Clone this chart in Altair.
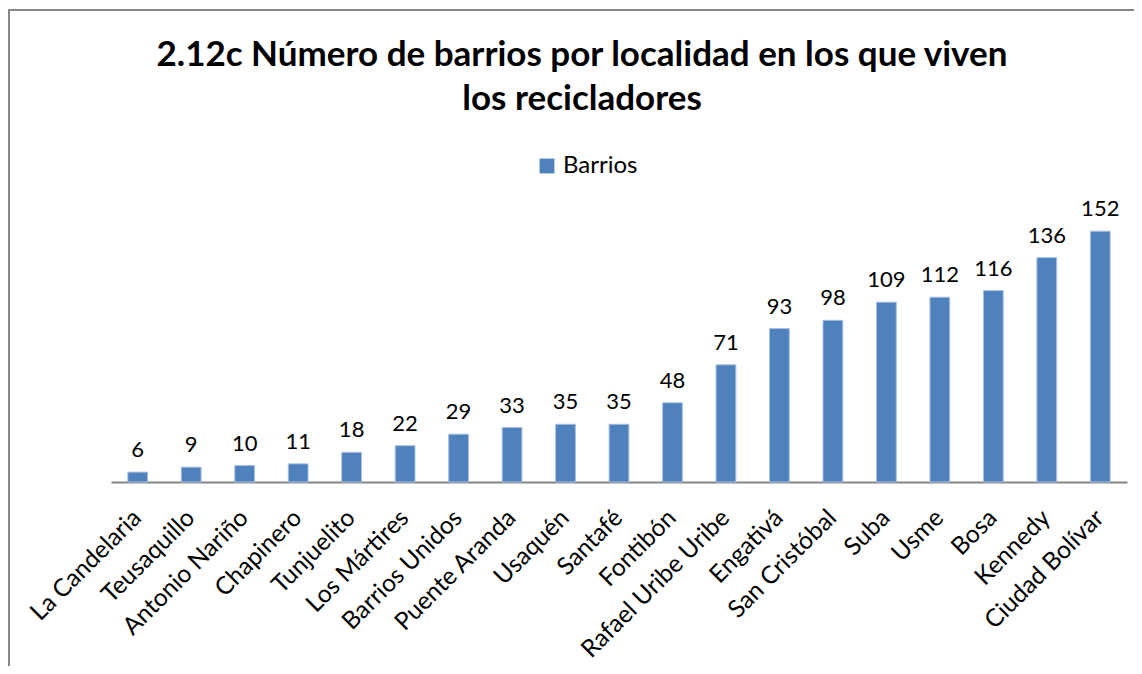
import altair as alt
import pandas as pd

localidades = ["La Candelaria", "Teusaquillo", "Antonio Nariño", "Chapinero", "Tunjuelito",
               "Los Mártires", "Barrios  Unidos", "Puente Aranda", "Usaquén", "Santafé",
               "Fontibón", "Rafael Uribe Uribe", "Engativá", "San Cristóbal", "Suba",
               "Usme", "Bosa", "Kennedy", "Ciudad Bolívar"]
barrios = [6, 9, 10, 11, 18, 22, 29, 33, 35, 35, 48, 71, 93, 98, 109, 112, 116, 136, 152]
serie = "Barrios"

df = pd.DataFrame({"localidad": localidades, "barrios": barrios, "serie": serie})

W, H = 1016, 264
PL, PT, PR, PB = 103, 210, 7, 184
FONT = "Lato"
BLUE = "#4F81BD"

base = alt.Chart(df).encode(
    x=alt.X("localidad:N", sort=localidades, title=None,
            scale=alt.Scale(paddingInner=0.63, paddingOuter=0.315),
            axis=alt.Axis(labelAngle=-45, labelAlign="right", labelBaseline="middle",
                          labelFontSize=24.5, labelFont=FONT, labelColor="#000000",
                          labelPadding=32, ticks=False, domainColor="#868686",
                          domainWidth=2, labelLimit=400)),
    y=alt.Y("barrios:Q", axis=None, scale=alt.Scale(domain=[0, 160])),
)

bars = base.mark_bar(stroke="#A9C0E0", strokeWidth=1).encode(
    color=alt.Color("serie:N", scale=alt.Scale(range=[BLUE]), title=None,
                    legend=alt.Legend(orient="none", legendX=424, legendY=-64,
                                      symbolType="square", symbolSize=220,
                                      labelFontSize=24, labelFont=FONT,
                                      labelColor="#000000", symbolStrokeWidth=0))
)

labels = base.mark_text(baseline="bottom", dy=-10, fontSize=22, font=FONT,
                        color="#000000").encode(text="barrios:Q")

frame_df = pd.DataFrame({"a": [0]})
frame_left = alt.Chart(frame_df).mark_rule(color="#868686", strokeWidth=2).encode(
    x=alt.value(-102), y=alt.value(-208), y2=alt.value(H + PB))
frame_top = alt.Chart(frame_df).mark_rule(color="#868686", strokeWidth=2).encode(
    x=alt.value(-103), x2=alt.value(W + PR), y=alt.value(-208))

chart = alt.layer(frame_left, frame_top, bars, labels).properties(
    width=W, height=H,
    padding={"left": PL, "top": PT, "right": PR, "bottom": PB},
    autosize=alt.AutoSizeParams(type="none"),
    title=alt.TitleParams(
        ["2.12c Número de barrios por localidad en los que viven", "los recicladores"],
        font=FONT, fontSize=35, fontWeight="bold", color="#000000",
        anchor="middle", dx=-37, offset=-108, lineHeight=44),
).configure_view(stroke=None)

chart.save("out.html", embed_options={"renderer": "svg", "actions": False})
